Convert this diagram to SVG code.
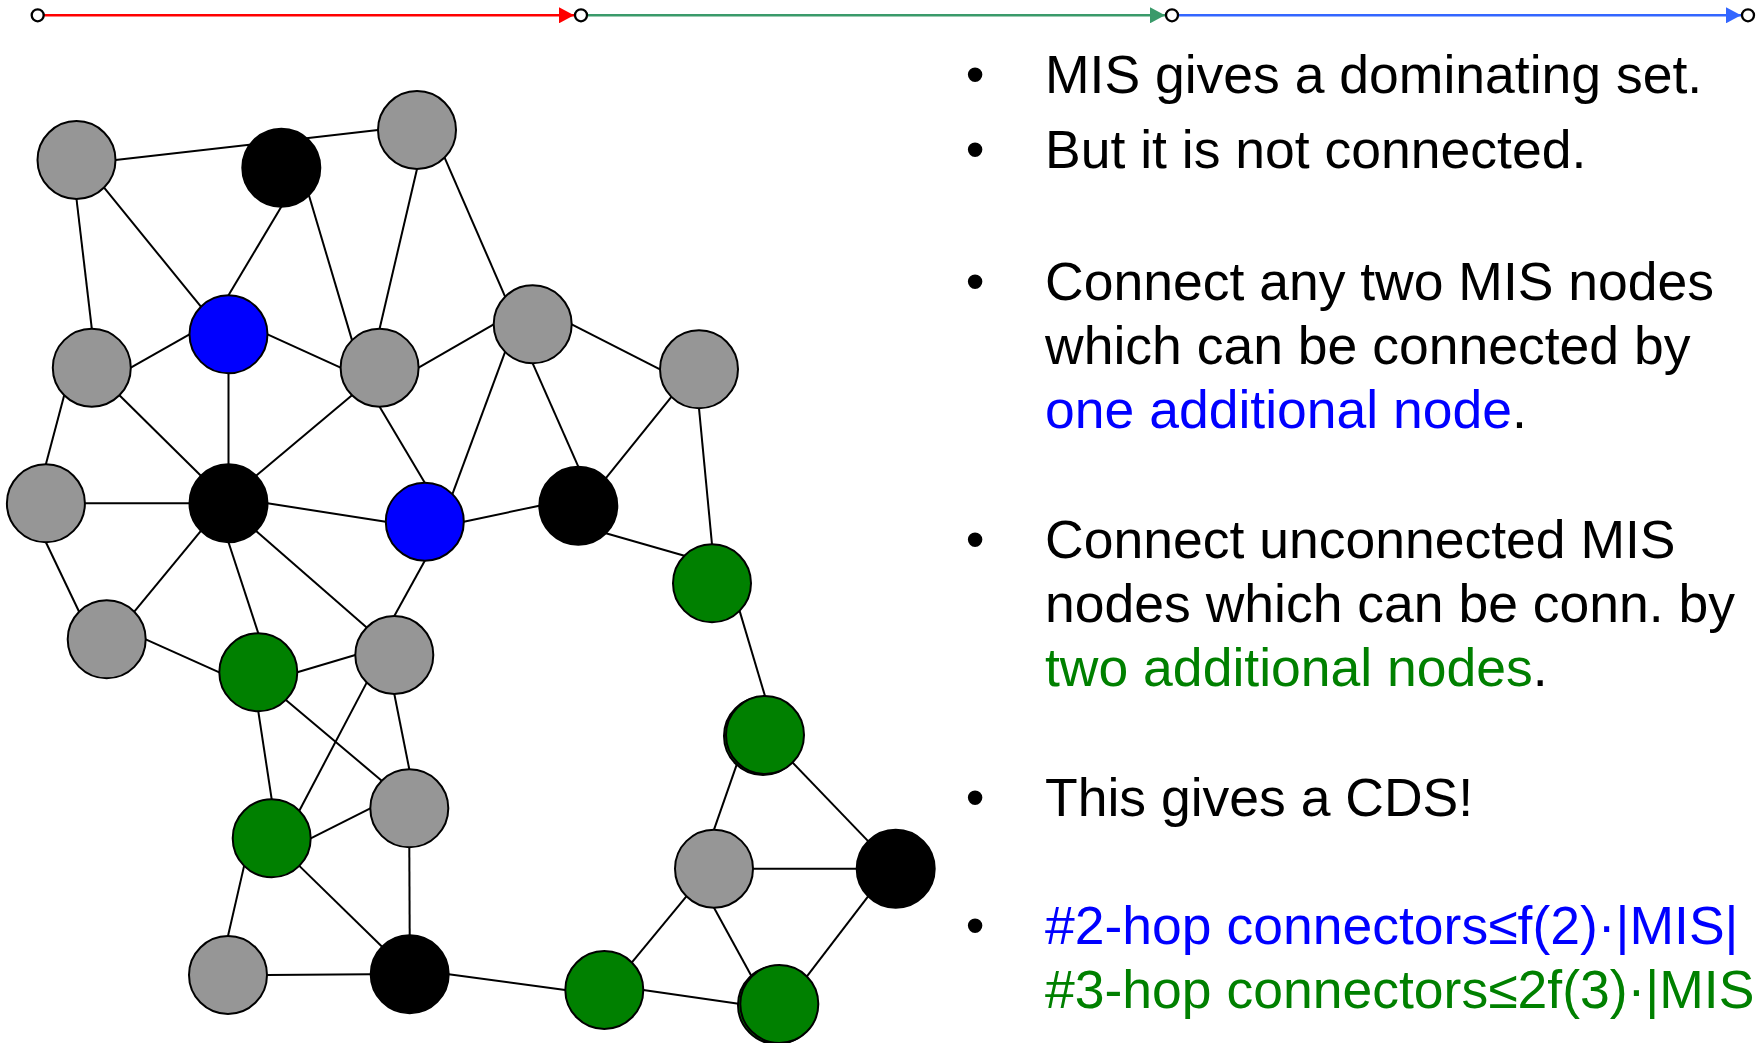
<svg xmlns="http://www.w3.org/2000/svg" width="1760" height="1043" viewBox="0 0 1760 1043">
  <style>
    .edge { stroke: #000; stroke-width: 2; fill: none; }
    .node { stroke: #000; stroke-width: 2; }
    .gray { fill: #969696; }
    .black { fill: #000; }
    .blue { fill: #0000FF; }
    .green { fill: #008000; }
    .txt { font-family: "Liberation Sans", Arial, sans-serif; font-size: 53.5px; fill: #000; }
    .tb { fill: #0000FF; }
    .tg { fill: #008000; }
    .step { fill: #fff; stroke: #000; stroke-width: 2.3; }
    .arr { stroke-width: 2.5; fill: none; }
  </style>
  <defs>
    <marker id="ahRed" markerUnits="userSpaceOnUse" markerWidth="15" markerHeight="16" refX="15" refY="8" orient="auto">
      <path d="M0,0 L15,8 L0,16 z" fill="#FF0000"/>
    </marker>
    <marker id="ahGreen" markerUnits="userSpaceOnUse" markerWidth="15" markerHeight="16" refX="15" refY="8" orient="auto">
      <path d="M0,0 L15,8 L0,16 z" fill="#3A9A6A"/>
    </marker>
    <marker id="ahBlue" markerUnits="userSpaceOnUse" markerWidth="15" markerHeight="16" refX="15" refY="8" orient="auto">
      <path d="M0,0 L15,8 L0,16 z" fill="#3366FF"/>
    </marker>
  </defs>

  <g id="progress">
    <line class="arr" x1="44" y1="15.3" x2="574" y2="15.3" stroke="#FF0000" marker-end="url(#ahRed)"/>
    <line class="arr" x1="588" y1="15.3" x2="1165" y2="15.3" stroke="#3A9A6A" marker-end="url(#ahGreen)"/>
    <line class="arr" x1="1179" y1="15.3" x2="1741" y2="15.3" stroke="#3366FF" marker-end="url(#ahBlue)"/>
    <circle class="step" cx="37.7" cy="15.3" r="6"/>
    <circle class="step" cx="581" cy="15.3" r="6"/>
    <circle class="step" cx="1172" cy="15.3" r="6"/>
    <circle class="step" cx="1748" cy="15.3" r="6"/>
  </g>

  <g id="connectors">
    <line class="edge" x1="115.5" y1="160" x2="378" y2="130"/>
    <line class="edge" x1="104.1" y1="187.6" x2="200.9" y2="306.7"/>
    <line class="edge" x1="76.5" y1="199" x2="91.8" y2="328.7"/>
    <line class="edge" x1="281.3" y1="206.7" x2="228.5" y2="295.3"/>
    <line class="edge" x1="308.9" y1="195.3" x2="352" y2="340.1"/>
    <line class="edge" x1="417" y1="169" x2="379.6" y2="328.7"/>
    <line class="edge" x1="444.6" y1="157.6" x2="505.1" y2="296.7"/>
    <line class="edge" x1="189.5" y1="334.3" x2="130.8" y2="367.7"/>
    <line class="edge" x1="267.5" y1="334.3" x2="340.6" y2="367.7"/>
    <line class="edge" x1="228.5" y1="373.3" x2="228.5" y2="464.3"/>
    <line class="edge" x1="64.2" y1="395.3" x2="45.9" y2="464.3"/>
    <line class="edge" x1="119.4" y1="395.3" x2="200.9" y2="475.7"/>
    <line class="edge" x1="418.6" y1="367.7" x2="493.7" y2="324.3"/>
    <line class="edge" x1="352" y1="395.3" x2="256.1" y2="475.7"/>
    <line class="edge" x1="379.6" y1="406.7" x2="424.8" y2="482.7"/>
    <line class="edge" x1="505.1" y1="351.9" x2="452.4" y2="494.1"/>
    <line class="edge" x1="532.7" y1="363.3" x2="578.3" y2="466.7"/>
    <line class="edge" x1="571.7" y1="324.3" x2="660" y2="369.3"/>
    <line class="edge" x1="671.4" y1="396.9" x2="605.9" y2="478.1"/>
    <line class="edge" x1="699" y1="408.3" x2="712" y2="544.3"/>
    <line class="edge" x1="84.9" y1="503.3" x2="189.5" y2="503.3"/>
    <line class="edge" x1="45.9" y1="542.3" x2="79.1" y2="611.7"/>
    <line class="edge" x1="267.5" y1="503.3" x2="385.8" y2="521.7"/>
    <line class="edge" x1="200.9" y1="530.9" x2="134.3" y2="611.7"/>
    <line class="edge" x1="228.5" y1="542.3" x2="258.3" y2="633.3"/>
    <line class="edge" x1="256.1" y1="530.9" x2="366.7" y2="627.4"/>
    <line class="edge" x1="463.8" y1="521.7" x2="539.3" y2="505.7"/>
    <line class="edge" x1="424.8" y1="560.7" x2="394.3" y2="616"/>
    <line class="edge" x1="605.9" y1="533.3" x2="684.4" y2="555.7"/>
    <line class="edge" x1="739.6" y1="610.9" x2="765" y2="696"/>
    <line class="edge" x1="145.7" y1="639.3" x2="219.3" y2="672.3"/>
    <line class="edge" x1="297.3" y1="672.3" x2="355.3" y2="655"/>
    <line class="edge" x1="285.9" y1="699.9" x2="381.7" y2="780.7"/>
    <line class="edge" x1="258.3" y1="711.3" x2="271.7" y2="799.3"/>
    <line class="edge" x1="366.7" y1="682.6" x2="299.3" y2="810.7"/>
    <line class="edge" x1="394.3" y1="694" x2="409.3" y2="769.3"/>
    <line class="edge" x1="370.3" y1="808.3" x2="310.7" y2="838.3"/>
    <line class="edge" x1="409.3" y1="847.3" x2="409.7" y2="935.3"/>
    <line class="edge" x1="244.1" y1="865.9" x2="228" y2="936"/>
    <line class="edge" x1="299.3" y1="865.9" x2="382.1" y2="946.7"/>
    <line class="edge" x1="267" y1="975" x2="370.7" y2="974.3"/>
    <line class="edge" x1="448.7" y1="974.3" x2="565.3" y2="990"/>
    <line class="edge" x1="631.9" y1="962.4" x2="686.4" y2="896.3"/>
    <line class="edge" x1="643.3" y1="990" x2="740.3" y2="1004"/>
    <line class="edge" x1="714" y1="829.7" x2="737.4" y2="762.6"/>
    <line class="edge" x1="753" y1="868.7" x2="856.7" y2="868.7"/>
    <line class="edge" x1="714" y1="907.7" x2="751.7" y2="976.4"/>
    <line class="edge" x1="792.6" y1="762.6" x2="868.1" y2="841.1"/>
    <line class="edge" x1="868.1" y1="896.3" x2="806.9" y2="976.4"/>
  </g>

  <g id="nodes">
    <g id="nA"><circle class="node gray" cx="76.5" cy="160" r="39"/></g>
    <g id="nB"><circle class="node black" cx="281.3" cy="167.7" r="39"/></g>
    <g id="nC"><circle class="node gray" cx="417" cy="130" r="39"/></g>
    <g id="nD"><circle class="node blue" cx="228.5" cy="334.3" r="39"/></g>
    <g id="nE"><circle class="node gray" cx="91.8" cy="367.7" r="39"/></g>
    <g id="nF"><circle class="node gray" cx="379.6" cy="367.7" r="39"/></g>
    <g id="nG"><circle class="node gray" cx="532.7" cy="324.3" r="39"/></g>
    <g id="nH"><circle class="node gray" cx="699" cy="369.3" r="39"/></g>
    <g id="nI"><circle class="node gray" cx="45.9" cy="503.3" r="39"/></g>
    <g id="nJ"><circle class="node black" cx="228.5" cy="503.3" r="39"/></g>
    <g id="nK"><circle class="node blue" cx="424.8" cy="521.7" r="39"/></g>
    <g id="nL"><circle class="node black" cx="578.3" cy="505.7" r="39"/></g>
    <g id="nM"><circle class="node green" cx="712" cy="583.3" r="39"/></g>
    <g id="nN"><circle class="node gray" cx="106.7" cy="639.3" r="39"/></g>
    <g id="nO"><circle class="node green" cx="258.3" cy="672.3" r="39"/></g>
    <g id="nP"><circle class="node gray" cx="394.3" cy="655" r="39"/></g>
    <g id="nQ"><circle class="node green" cx="763" cy="736" r="39"/><circle class="node green" cx="765" cy="735" r="39"/></g>
    <g id="nR"><circle class="node gray" cx="409.3" cy="808.3" r="39"/></g>
    <g id="nS"><circle class="node green" cx="271.7" cy="838.3" r="39"/></g>
    <g id="nT"><circle class="node gray" cx="714" cy="868.7" r="39"/></g>
    <g id="nU"><circle class="node black" cx="895.7" cy="868.7" r="39"/></g>
    <g id="nV"><circle class="node gray" cx="228" cy="975" r="39"/></g>
    <g id="nW"><circle class="node black" cx="409.7" cy="974.3" r="39"/></g>
    <g id="nX"><circle class="node green" cx="604.3" cy="990" r="39"/></g>
    <g id="nY"><circle class="node green" cx="777" cy="1005" r="39"/><circle class="node green" cx="779.3" cy="1004" r="39"/></g>
  </g>

  <g id="bullets">
    <text class="txt" x="975" y="93" text-anchor="middle">•</text>
    <text class="txt" x="975" y="168" text-anchor="middle">•</text>
    <text class="txt" x="975" y="299.5" text-anchor="middle">•</text>
    <text class="txt" x="975" y="558" text-anchor="middle">•</text>
    <text class="txt" x="975" y="816" text-anchor="middle">•</text>
    <text class="txt" x="975" y="944" text-anchor="middle">•</text>
  </g>
  <g id="text">
    <text class="txt" x="1045" y="93">MIS gives a dominating set.</text>
    <text class="txt" x="1045" y="168">But it is not connected.</text>
    <text class="txt" x="1045" y="299.5">Connect any two MIS nodes</text>
    <text class="txt" x="1045" y="363.5">which can be connected by</text>
    <text class="txt" x="1045" y="427.5"><tspan class="tb">one additional node</tspan>.</text>
    <text class="txt" x="1045" y="558">Connect unconnected MIS</text>
    <text class="txt" x="1045" y="622">nodes which can be conn. by</text>
    <text class="txt" x="1045" y="686"><tspan class="tg">two additional nodes</tspan>.</text>
    <text class="txt" x="1045" y="816">This gives a CDS!</text>
    <text class="txt tb" x="1045" y="944">#2-hop connectors≤f(2)·|MIS|</text>
    <text class="txt tg" x="1045" y="1008">#3-hop connectors≤2f(3)·|MIS</text>
  </g>
</svg>
